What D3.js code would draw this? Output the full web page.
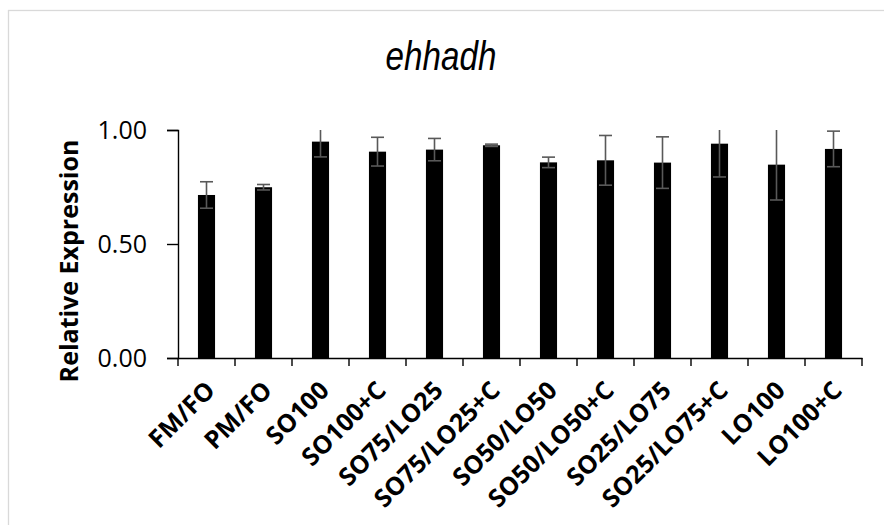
<!DOCTYPE html>
<html>
<head>
<meta charset="utf-8">
<script src="https://cdn.jsdelivr.net/npm/d3@7"></script>
<style>
  html, body { margin: 0; padding: 0; background: #fff; }
  svg { display: block; }
</style>
</head>
<body>
<svg id="chart" width="884" height="525"></svg>
<script>
// Relative expression of ehhadh across diet groups
const categories = ["FM/FO", "PM/FO", "SO100", "SO100+C", "SO75/LO25", "SO75/LO25+C",
  "SO50/LO50", "SO50/LO50+C", "SO25/LO75", "SO25/LO75+C", "LO100", "LO100+C"];
const means  = [0.715, 0.749, 0.949, 0.905, 0.914, 0.933, 0.858, 0.867, 0.857, 0.940, 0.848, 0.917];
const errors = [0.058, 0.012, 0.067, 0.063, 0.049, 0.005, 0.023, 0.109, 0.113, 0.146, 0.155, 0.078];
const yTicks = [0, 0.5, 1.0];

const data = categories.map((c, i) => ({ cat: c, mean: means[i], err: errors[i] }));

const W = 884, H = 525;
const plot = { left: 178, right: 862, top: 130, bottom: 358 };

const svg = d3.select("#chart");

// chart frame
svg.append("rect")
  .attr("x", 8.5).attr("y", 10.5)
  .attr("width", W).attr("height", H)
  .attr("fill", "#fff").attr("stroke", "#d9d9d9").attr("stroke-width", 1.3);

const x = d3.scaleBand().domain(categories).range([plot.left, plot.right]).paddingInner(0.7).paddingOuter(0.35);
const xTick = d3.scaleBand().domain(categories).range([plot.left, plot.right]);
const y = d3.scaleLinear().domain([0, 1]).range([plot.bottom, plot.top]);

// title (condensed italic)
svg.append("text")
  .attr("transform", "translate(441,70) scale(0.83,1)")
  .attr("text-anchor", "middle")
  .attr("font-family", "'Liberation Sans', Arial, sans-serif")
  .attr("font-style", "italic")
  .attr("font-size", 40)
  .attr("fill", "#000")
  .text("ehhadh");

// bars
svg.append("g").selectAll("rect")
  .data(data).join("rect")
  .attr("x", d => x(d.cat))
  .attr("width", x.bandwidth())
  .attr("y", d => y(d.mean))
  .attr("height", d => y(0) - y(d.mean))
  .attr("fill", "#000");

// error bars, clipped to the axis maximum
const capW = 13;
const eb = svg.append("g").attr("stroke", "#595959").attr("stroke-width", 1.6);
data.forEach(d => {
  const cx = x(d.cat) + x.bandwidth() / 2;
  const hi = d.mean + d.err, lo = d.mean - d.err;
  const yHi = y(Math.min(hi, 1));
  eb.append("line").attr("x1", cx).attr("x2", cx).attr("y1", yHi).attr("y2", y(lo));
  eb.append("line").attr("x1", cx - capW / 2).attr("x2", cx + capW / 2).attr("y1", y(lo)).attr("y2", y(lo));
  if (hi <= 1) {
    eb.append("line").attr("x1", cx - capW / 2).attr("x2", cx + capW / 2).attr("y1", yHi).attr("y2", yHi);
  }
});

// y axis
const yAxis = svg.append("g")
  .attr("transform", `translate(${plot.left},0)`)
  .call(d3.axisLeft(y).tickValues(yTicks).tickFormat(d3.format(".2f")).tickSize(11).tickPadding(20));
yAxis.select(".domain").attr("stroke", "#000").attr("stroke-width", 1.4);
yAxis.selectAll(".tick line").attr("stroke", "#000").attr("stroke-width", 1.4);
yAxis.selectAll(".tick text")
  .attr("font-family", "'Open Sans', sans-serif")
  .attr("font-size", 25)
  .attr("fill", "#000");

// x axis
const xAxis = svg.append("g")
  .attr("transform", `translate(0,${plot.bottom})`)
  .call(d3.axisBottom(xTick).tickSize(0).tickFormat(""));
xAxis.select(".domain").attr("stroke", "#000").attr("stroke-width", 1.4);
xAxis.selectAll(".tick").remove();

// category boundary ticks
const bounds = categories.map(c => xTick(c)).concat([plot.right]);
svg.append("g").selectAll("line")
  .data(bounds).join("line")
  .attr("x1", d => d).attr("x2", d => d)
  .attr("y1", plot.bottom).attr("y2", plot.bottom + 8)
  .attr("stroke", "#000").attr("stroke-width", 1.4);

// category labels
svg.append("g").selectAll("text")
  .data(categories).join("text")
  .attr("transform", c => `translate(${xTick(c) + xTick.bandwidth() / 2 + 10},${plot.bottom + 34}) rotate(-45)`)
  .attr("text-anchor", "end")
  .attr("font-family", "'Open Sans', sans-serif")
  .attr("font-weight", "bold")
  .attr("font-size", 25)
  .attr("fill", "#000")
  .text(c => c);

// y axis title
svg.append("text")
  .attr("transform", `translate(78,261) rotate(-90)`)
  .attr("text-anchor", "middle")
  .attr("font-family", "'Open Sans', sans-serif")
  .attr("font-weight", "bold")
  .attr("font-size", 25)
  .attr("fill", "#000")
  .text("Relative Expression");
</script>
</body>
</html>
